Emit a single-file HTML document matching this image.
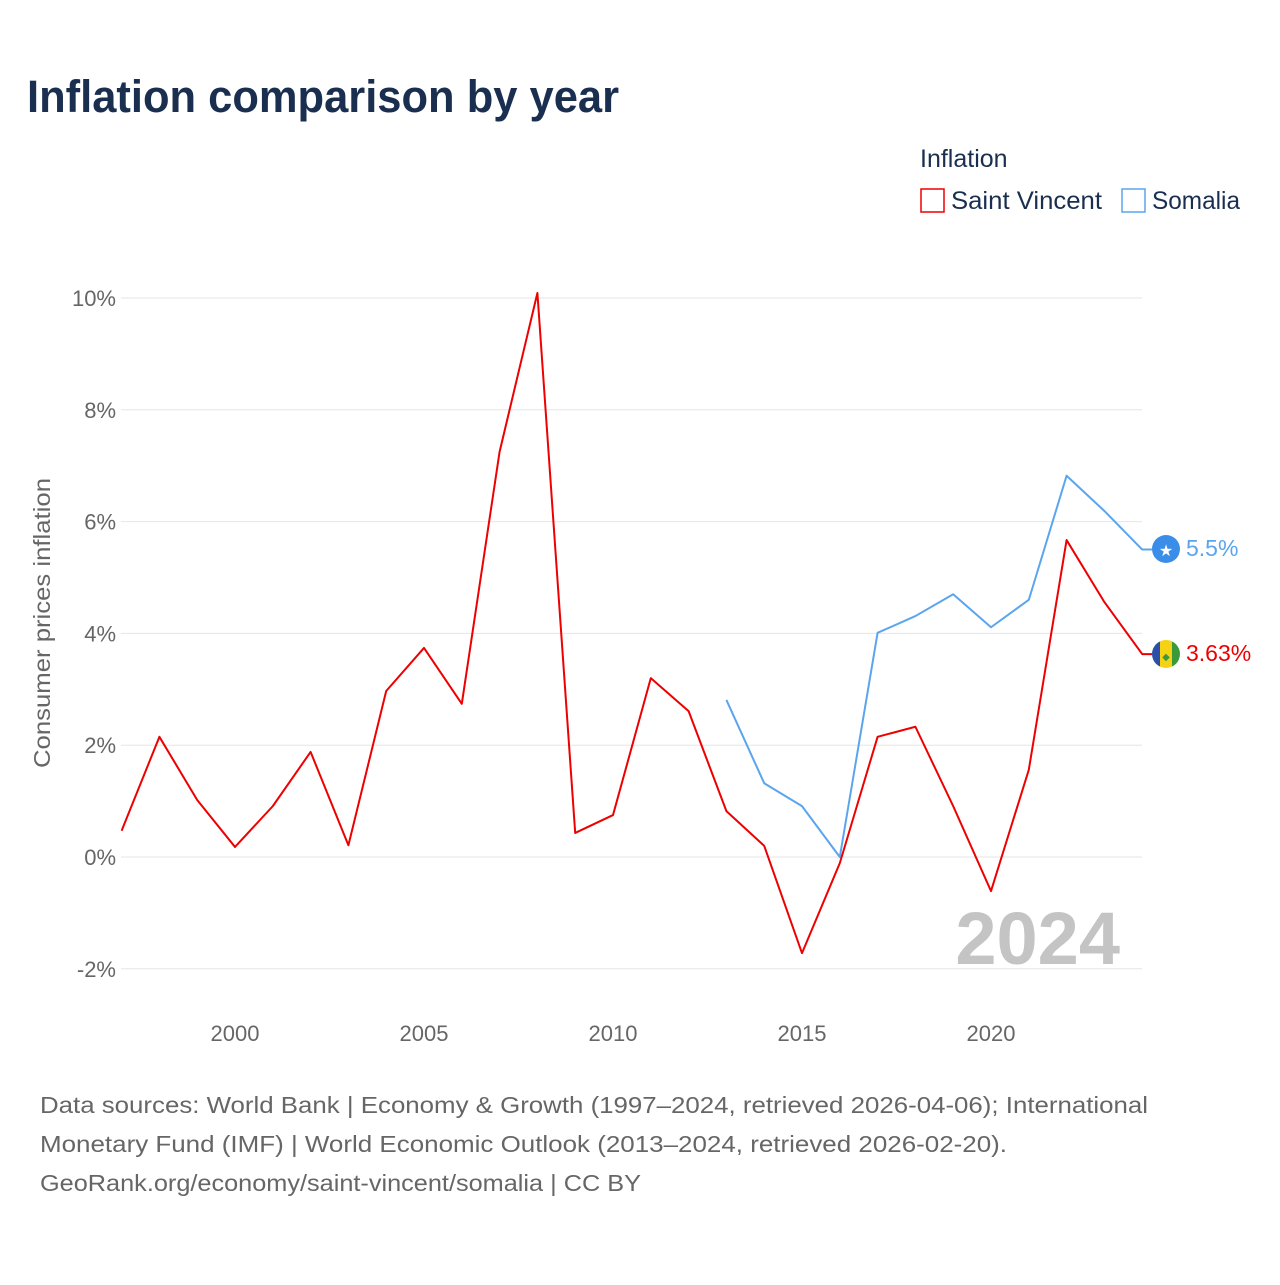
<!DOCTYPE html>
<html><head><meta charset="utf-8">
<style>
body{margin:0;background:#fff;font-family:"Liberation Sans",sans-serif;}
svg text{font-family:"Liberation Sans",sans-serif;}
</style></head>
<body>
<svg width="1280" height="1280" viewBox="0 0 1280 1280">
<text x="27" y="112" font-size="45" font-weight="bold" fill="#1a2e50" textLength="592" lengthAdjust="spacingAndGlyphs">Inflation comparison by year</text>
<text x="920" y="167" font-size="25" fill="#1a2e50">Inflation</text>
<g><rect x="921" y="189" width="23" height="23" fill="none" stroke="#ee0000" stroke-width="1.5"/><text x="951" y="209" font-size="25" fill="#1a2e50" textLength="151" lengthAdjust="spacingAndGlyphs">Saint Vincent</text></g>
<g><rect x="1122" y="189" width="23" height="23" fill="none" stroke="#5aa5ee" stroke-width="1.5"/><text x="1152" y="209" font-size="25" fill="#1a2e50" textLength="88" lengthAdjust="spacingAndGlyphs">Somalia</text></g>
<text transform="translate(50,623) rotate(-90)" text-anchor="middle" font-size="23" fill="#666" textLength="290" lengthAdjust="spacingAndGlyphs">Consumer prices inflation</text>
<g id="grid"></g><g id="yt"></g><g id="xt"></g>
<text x="1120" y="964" text-anchor="end" font-size="74" font-weight="bold" fill="#c4c4c4">2024</text>
<g id="series"></g>
<g><circle cx="1166" cy="549" r="14" fill="#3b8ee8"/><text x="1166" y="556" text-anchor="middle" font-size="16" fill="#fff">★</text></g>
<g><clipPath id="cf"><circle cx="1166" cy="654" r="14"/></clipPath><g clip-path="url(#cf)"><rect x="1152" y="640" width="8" height="28" fill="#2b4fa8"/><rect x="1160" y="640" width="12" height="28" fill="#f5d214"/><rect x="1172" y="640" width="8" height="28" fill="#3a9a3a"/><text x="1166" y="660" text-anchor="middle" font-size="10" fill="#3a9a3a">◆</text></g></g>
<text x="1186" y="556" font-size="23" fill="#5aa5ee">5.5%</text>
<text x="1186" y="661" font-size="23" fill="#ee0000">3.63%</text>
<g font-size="23" fill="#666">
<text x="40" y="1113" textLength="1108" lengthAdjust="spacingAndGlyphs">Data sources: World Bank | Economy &amp; Growth (1997–2024, retrieved 2026-04-06); International</text>
<text x="40" y="1152" textLength="967" lengthAdjust="spacingAndGlyphs">Monetary Fund (IMF) | World Economic Outlook (2013–2024, retrieved 2026-02-20).</text>
<text x="40" y="1191" textLength="601" lengthAdjust="spacingAndGlyphs">GeoRank.org/economy/saint-vincent/somalia | CC BY</text>
</g>
</svg>
<script>
const svYears=[1997,1998,1999,2000,2001,2002,2003,2004,2005,2006,2007,2008,2009,2010,2011,2012,2013,2014,2015,2016,2017,2018,2019,2020,2021,2022,2023,2024];
const svValues=[0.47,2.15,1.02,0.18,0.91,1.88,0.21,2.97,3.74,2.74,7.25,10.09,0.43,0.75,3.20,2.61,0.82,0.20,-1.72,-0.11,2.15,2.33,0.91,-0.61,1.56,5.67,4.56,3.63];
const soYears=[2013,2014,2015,2016,2017,2018,2019,2020,2021,2022,2023,2024];
const soValues=[2.81,1.32,0.91,0.0,4.01,4.31,4.70,4.11,4.60,6.82,6.19,5.5];
const yTicks=[-2,0,2,4,6,8,10];
const xTicks=[2000,2005,2010,2015,2020];
const NS='http://www.w3.org/2000/svg';
const xs=y=>121.6+(y-1997)*37.8;
const ys=v=>857-v*55.9;
function mk(t,a,p){const e=document.createElementNS(NS,t);for(const k in a)e.setAttribute(k,a[k]);document.getElementById(p).appendChild(e);return e;}
yTicks.forEach(v=>{
 const l=mk('line',{x1:121,x2:1142,y1:ys(v),y2:ys(v),stroke:'#e6e6e6','stroke-width':1},'grid');
 
 
 const t=mk('text',{x:116,y:ys(v)+8,'text-anchor':'end','font-size':22,fill:'#666'},'yt');
 t.textContent=v+'%';
 
 
});
xTicks.forEach(y=>{
 const t=mk('text',{x:xs(y),y:1041,'text-anchor':'middle','font-size':22,fill:'#666'},'xt');
 t.textContent=y;
 
 
});
function line(years,vals,color,name){
 let d=years.map((y,i)=>(i?'L':'M')+xs(y)+','+ys(vals[i])).join(' ');
 d+=' L'+(xs(years[years.length-1])+10)+','+ys(vals[vals.length-1]);
 const p=mk('path',{d:d,fill:'none',stroke:color,'stroke-width':2,'stroke-linejoin':'round'},'series');
 
 
}
line(soYears,soValues,'#5aa5ee','somalia-line');
line(svYears,svValues,'#ee0000','saint-vincent-line');
</script>
</body></html>
